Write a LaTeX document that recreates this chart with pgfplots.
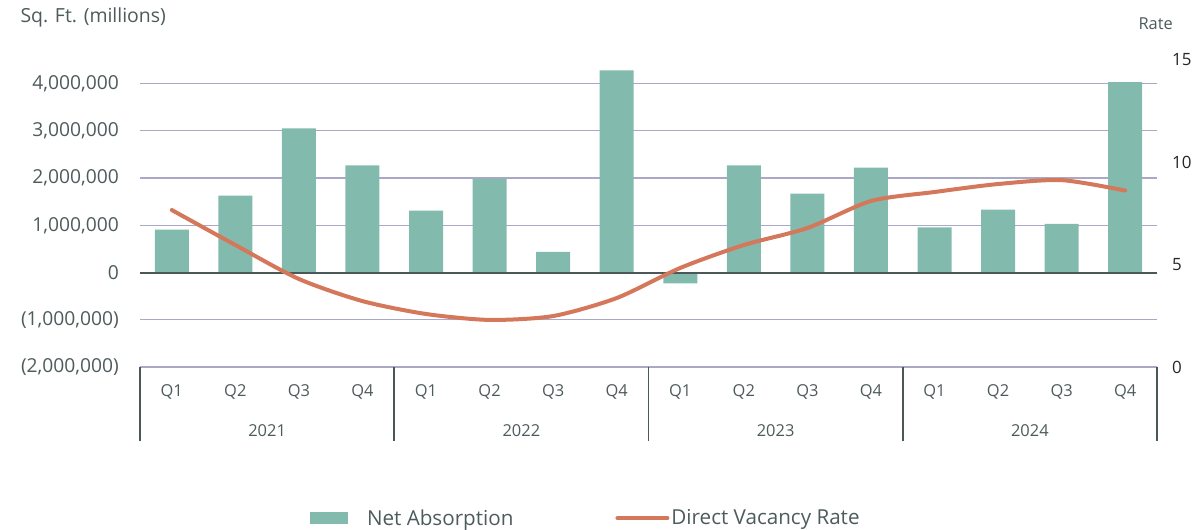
\documentclass[border=0pt]{standalone}
\usepackage{pgfplots}
\pgfplotsset{compat=1.18}
\usepackage{fontspec}
\setmainfont{Open Sans}
\definecolor{barc}{HTML}{82BBAD}
\definecolor{linec}{HTML}{D4775A}
\definecolor{gridc}{HTML}{A9A8C6}
\definecolor{txt}{HTML}{4E5B5C}
\definecolor{zeroc}{HTML}{4A5858}
\pgfplotstableread{
x y
0 910000
1 1630000
2 3050000
3 2270000
4 1310000
5 1990000
6 440000
7 4280000
8 -230000
9 2270000
10 1670000
11 2220000
12 954000
13 1330000
14 1030000
15 4030000
}\absorb
\pgfplotstableread{
x r
0 7.67
1 5.96
2 4.30
3 3.22
4 2.59
5 2.30
6 2.49
7 3.37
8 4.84
9 5.96
10 6.79
11 8.11
12 8.55
13 8.94
14 9.13
15 8.62
}\vacancy
\begin{document}
\begin{tikzpicture}[x=1bp,y=1bp]
\useasboundingbox (-140,-163) rectangle (1058,367);
\begin{axis}[
  at={(0,0)}, anchor=south west,
  scale only axis, width=1017bp, height=307bp,
  xmin=-0.5, xmax=15.5, ymin=-2000000, ymax=4500000,
  scaled y ticks=false,
  axis line style={draw=none},
  major tick length=0pt,
  ymajorgrids, grid style={gridc, line width=1.2bp},
  ytick={-2000000,-1000000,0,1000000,2000000,3000000,4000000},
  yticklabels={(2,000,000),(1,000,000),0,{1,000,000},{2,000,000},{3,000,000},{4,000,000}},
  yticklabel style={text=txt, font=\fontsize{19.3}{19.3}\selectfont, inner sep=0pt, anchor=east, xshift=-21bp},
  xtick={0,...,15},
  xticklabels={Q1,Q2,Q3,Q4,Q1,Q2,Q3,Q4,Q1,Q2,Q3,Q4,Q1,Q2,Q3,Q4},
  xticklabel style={text=txt, font=\fontsize{16.5}{16.5}\selectfont, inner sep=0pt, anchor=center, yshift=-25bp},
  clip=false,
]
\addplot[ybar, bar width=34bp, fill=barc, draw=none, bar shift=0pt] table[x=x,y=y]{\absorb};
\draw[zeroc, line width=2bp] (axis cs:-0.5,0) -- (axis cs:15.5,0);
\pgfplotsinvokeforeach{-0.5,3.5,7.5,11.5,15.5}{
  \draw[zeroc, line width=1.6bp] (axis cs:#1,-2000000) -- ([yshift=-74bp]axis cs:#1,-2000000);
}
\node[text=txt, font=\fontsize{16.5}{16.5}\selectfont] at (axis cs:1.5,-2000000) [yshift=-64bp] {2021};
\node[text=txt, font=\fontsize{16.5}{16.5}\selectfont] at (axis cs:5.5,-2000000) [yshift=-64bp] {2022};
\node[text=txt, font=\fontsize{16.5}{16.5}\selectfont] at (axis cs:9.5,-2000000) [yshift=-64bp] {2023};
\node[text=txt, font=\fontsize{16.5}{16.5}\selectfont] at (axis cs:13.5,-2000000) [yshift=-64bp] {2024};
\end{axis}
\begin{axis}[
  at={(0,0)}, anchor=south west,
  scale only axis, width=1017bp, height=307bp,
  xmin=-0.5, xmax=15.5, ymin=0, ymax=15,
  axis x line=none,
  axis y line*=right,
  axis line style={draw=none},
  major tick length=0pt,
  ytick={0,5,10,15},
  /pgf/number format/assume math mode=true,
  yticklabel style={text=black!85, font=\fontsize{17}{17}\selectfont, inner sep=0pt, anchor=west, xshift=15bp},
  legend style={at={(0.167,-0.492)}, anchor=west, draw=none, fill=none, inner sep=0pt,
    font=\fontsize{20.7}{20.7}\selectfont, text=txt, /tikz/every even column/.append style={column sep=100bp}},
  legend columns=2,
  legend cell align=left,
  clip=false,
]
\addlegendimage{legend image code/.code={\fill[barc, draw=none] (0bp,-6bp) rectangle (38bp,6bp); \path[draw=none, fill=none] (0bp,0bp) -- (55bp,0bp);}}
\addlegendentry{Net Absorption}
\addplot[linec, line width=4bp, smooth, tension=0.45, line cap=round,
  legend image code/.code={\draw[linec, line width=4bp, line cap=round] (2bp,0bp) -- (52bp,0bp);}] table[x=x,y=r]{\vacancy};
\addlegendentry{Direct Vacancy Rate}
\end{axis}
\node[anchor=west, text=txt, font=\fontsize{19.5}{19.5}\selectfont] at (-123,350) {Sq. Ft. (millions)};
\node[anchor=west, text=txt, font=\fontsize{16.5}{16.5}\selectfont] at (995,343) {Rate};
\end{tikzpicture}
\end{document}
